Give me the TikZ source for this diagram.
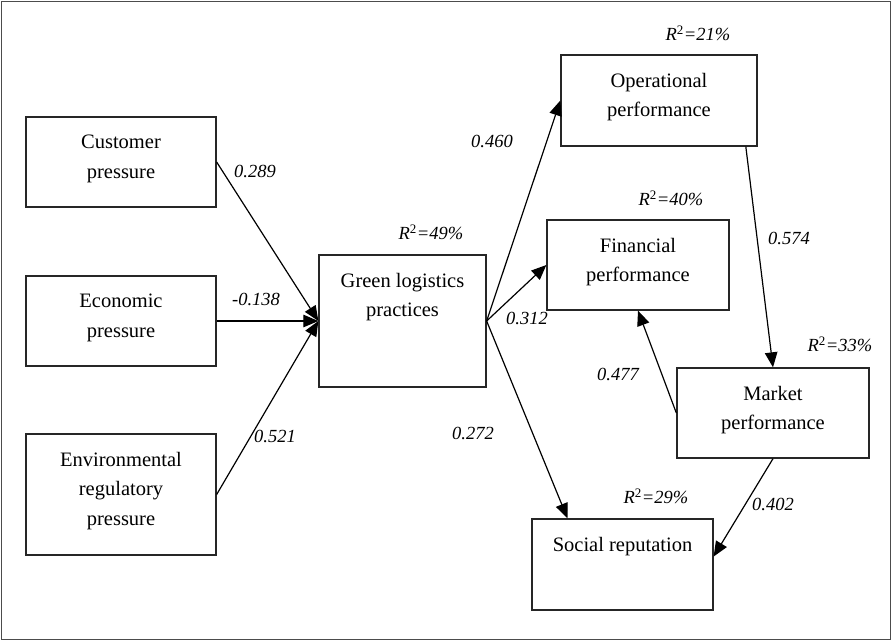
\documentclass[tikz,border=0pt]{standalone}
\usepackage{fontspec}
\setmainfont{Liberation Serif}
\usetikzlibrary{arrows.meta}

\tikzset{
	box/.style={draw=black!85, line width=1.3pt, inner sep=0pt},
	boxtext/.style={anchor=north, align=center, inner sep=0pt, yshift=-18.5pt},
	coef/.style={font=\fontsize{18.5}{22}\selectfont\itshape, inner sep=0pt},
	link/.style={-{Triangle[length=15pt,width=12.5pt]}, line width=1.2pt},
	frame/.style={draw=black!70, line width=1.6pt}
}

\begin{document}
\begin{tikzpicture}[x=1pt, y=-1pt, font=\fontsize{20.5}{29.5}\selectfont]
	% outer frame
	\useasboundingbox (0,0) rectangle (892,641);
	\draw[frame] (1.5,1.5) rectangle (890.5,639.5);

	% draw the pressure boxes
	\node[box, minimum width=190, minimum height=90, label={[boxtext]north:{Customer\\pressure}}] (cust) at (121,162) {};
	\node[box, minimum width=190, minimum height=90, label={[boxtext]north:{Economic\\pressure}}] (econ) at (121,321) {};
	\node[box, minimum width=190, minimum height=121, label={[boxtext]north:{Environmental\\regulatory\\pressure}}] (env) at (121,494.5) {};

	% draw the practices box
	\node[box, minimum width=167, minimum height=132, label={[boxtext]north:{Green logistics\\practices}}] (green) at (402.5,321) {};

	% draw the performance boxes
	\node[box, minimum width=196, minimum height=91, label={[boxtext]north:{Operational\\performance}}] (oper) at (659,100.5) {};
	\node[box, minimum width=182, minimum height=90, label={[boxtext]north:{Financial\\performance}}] (fin) at (638,265) {};
	\node[box, minimum width=192, minimum height=90, label={[boxtext]north:{Market\\performance}}] (mkt) at (773,413) {};
	\node[box, minimum width=181, minimum height=91, label={[boxtext]north:{Social reputation}}] (soc) at (622.5,564.5) {};

	% R squared values
	\node[coef] (r49) at (431,232) {R\textsuperscript{\upshape 2}=49\%};
	\node[coef] (r21) at (698,33) {R\textsuperscript{\upshape 2}=21\%};
	\node[coef] (r40) at (671,198) {R\textsuperscript{\upshape 2}=40\%};
	\node[coef] (r33) at (840,344) {R\textsuperscript{\upshape 2}=33\%};
	\node[coef] (r29) at (656,496) {R\textsuperscript{\upshape 2}=29\%};

	% path coefficients
	\node[coef] (c289) at (255,171) {0.289};
	\node[coef] (c138) at (256,299) {-0.138};
	\node[coef] (c521) at (275,436) {0.521};
	\node[coef] (c460) at (492,141) {0.460};
	\node[coef] (c312) at (527,318) {0.312};
	\node[coef] (c272) at (473,433) {0.272};
	\node[coef] (c574) at (789,238) {0.574};
	\node[coef] (c477) at (618,374) {0.477};
	\node[coef] (c402) at (773,504) {0.402};

	% draw the arrows
	\draw[link] (cust.east) -- (green.west);
	\draw[link] (econ.east) -- (green.west);
	\draw[link] (env.east) -- (green.west);
	\draw[link] (green.east) -- (oper.west);
	\draw[link] (green.east) -- (fin.west);
	\draw[link] (green.east) -- (soc.140);
	\draw[link] (oper.-28) -- (mkt.north);
	\draw[link] (mkt.west) -- (fin.south);
	\draw[link] (mkt.south) -- (soc.5);
\end{tikzpicture}
\end{document}
